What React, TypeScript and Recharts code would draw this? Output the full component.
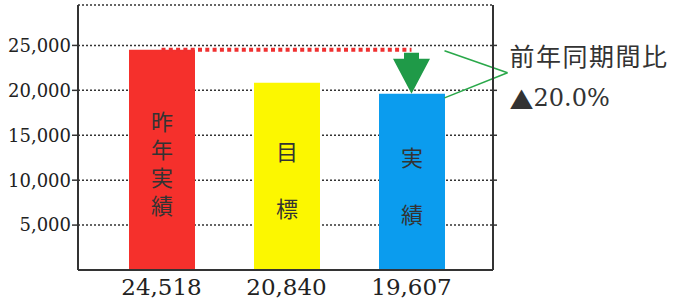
import React from "react";
import {
  BarChart,
  Bar,
  XAxis,
  YAxis,
  CartesianGrid,
  Cell,
  LabelList,
  ReferenceLine,
} from "recharts";

const categories = ["24,518", "20,840", "19,607"];
const values = [24518, 20840, 19607];
const barTexts = ["昨年実績", "目標", "実績"];
const barColors = ["#f5302c", "#fcf700", "#0b9cee"];
const yTicks = [5000, 10000, 15000, 20000, 25000];
const yDomain = [0, 29500];
const calloutTitle = "前年同期間比";

const data = categories.map((c, i) => ({ name: c, value: values[i], text: barTexts[i] }));

const prev = values[0];
const actual = values[2];
const pct = "▲" + (((prev - actual) / prev) * 100).toFixed(1) + "%";

const SERIF = "'DejaVu Serif', serif";
const CJK = "'Noto Sans CJK JP', sans-serif";
const AXIS = "#333";

const XTick = (props: any) => {
  const { x, y, payload } = props;
  return (
    <text x={x} y={y + 25} textAnchor="middle" fontFamily={SERIF} fontSize={23} fill="#222">
      {payload.value}
    </text>
  );
};

const BarText = (props: any) => {
  const { x, y, width, height, value } = props;
  const str = String(value);
  const fs = 22;
  const step = str.length > 2 ? 28 : 57;
  const gap = step - fs;
  const cx = x + width / 2;
  const cy = y + height / 2 + 4 + gap / 2;
  return (
    <text
      x={cx}
      y={cy}
      textAnchor="middle"
      fontFamily={CJK}
      fontSize={fs}
      fill="#333"
      letterSpacing={gap}
      style={{ writingMode: "vertical-rl" }}
    >
      {str}
    </text>
  );
};

const Arrow = (props: any) => {
  const { x1, y1, y2 } = props;
  const top = y1 + 3;
  const tip = y2;
  const headTop = tip - 35;
  const sw = 7.5;
  const hw = 18.5;
  const pts = [
    [x1 - sw, top],
    [x1 + sw, top],
    [x1 + sw, headTop],
    [x1 + hw, headTop],
    [x1, tip],
    [x1 - hw, headTop],
    [x1 - sw, headTop],
  ]
    .map((p) => p.join(","))
    .join(" ");
  return <polygon points={pts} fill="#1f9a48" />;
};

const Callout = (props: any) => {
  const { x1, y1, y2 } = props;
  const sx = x1 + 33;
  const ex = x1 + 96;
  const ey = (y1 + y2) / 2 + 1;
  return (
    <g>
      <line x1={sx} y1={y1 + 1} x2={ex} y2={ey} stroke="#2aa84a" strokeWidth={1.6} />
      <line x1={sx} y1={y2 + 4} x2={ex} y2={ey} stroke="#2aa84a" strokeWidth={1.6} />
      <text
        x={ex + 2}
        y={ey - 18}
        dominantBaseline="central"
        fontFamily={CJK}
        fontSize={25}
        letterSpacing={1.5}
        fill="#333"
      >
        {calloutTitle}
      </text>
      <text x={ex + 2} y={ey + 25} dominantBaseline="central" fontSize={24} fill="#333">
        <tspan fontFamily={CJK}>{pct.slice(0, 1)}</tspan>
        <tspan fontFamily={SERIF}>{pct.slice(1)}</tspan>
      </text>
    </g>
  );
};

export default function App() {
  return (
    <div style={{ position: "absolute", left: 0, top: 0, background: "#fff" }}>
      <BarChart
        width={677}
        height={301}
        data={data}
        margin={{ top: 5, right: 180, bottom: 0, left: 0 }}
        barCategoryGap={0}
      >
        <CartesianGrid
          vertical={false}
          stroke="#333"
          strokeDasharray="2 2"
          strokeWidth={1.5}
        />
        <XAxis
          dataKey="name"
          height={31}
          padding={{ left: 21, right: 19 }}
          tickLine={false}
          tickSize={0}
          tickMargin={0}
          tick={<XTick />}
          axisLine={{ stroke: AXIS, strokeWidth: 2 }}
        />
        <XAxis
          xAxisId="top"
          dataKey="name"
          orientation="top"
          height={0}
          padding={{ left: 21, right: 19 }}
          tick={false}
          tickLine={false}
          axisLine={{ stroke: AXIS, strokeWidth: 2 }}
        />
        <YAxis
          width={78}
          domain={yDomain}
          ticks={yTicks}
          interval={0}
          tickSize={6}
          tickMargin={1}
          tickFormatter={(v: number) => v.toLocaleString("en-US")}
          tick={{ fontFamily: SERIF, fontSize: 18, fill: "#222" }}
          tickLine={{ stroke: AXIS, strokeWidth: 1.5 }}
          axisLine={{ stroke: AXIS, strokeWidth: 2 }}
          allowDataOverflow
        />
        <YAxis
          yAxisId="right"
          orientation="right"
          width={4}
          domain={yDomain}
          ticks={yTicks}
          interval={0}
          tickSize={4}
          tickFormatter={() => ""}
          tickLine={{ stroke: AXIS, strokeWidth: 1.5 }}
          axisLine={{ stroke: AXIS, strokeWidth: 2 }}
          allowDataOverflow
        />
        <Bar dataKey="value" barSize={66} isAnimationActive={false}>
          {data.map((d, i) => (
            <Cell key={d.name} fill={barColors[i]} />
          ))}
          <LabelList dataKey="text" content={<BarText />} />
        </Bar>
        <ReferenceLine
          segment={[
            { x: categories[0], y: prev },
            { x: categories[2], y: prev },
          ]}
          stroke="#f03030"
          strokeWidth={4}
          strokeDasharray="4 3.3"
          ifOverflow="visible"
        />
        <ReferenceLine
          segment={[
            { x: categories[2], y: prev },
            { x: categories[2], y: actual },
          ]}
          ifOverflow="visible"
          shape={Arrow}
        />
        <ReferenceLine
          segment={[
            { x: categories[2], y: prev },
            { x: categories[2], y: actual },
          ]}
          ifOverflow="visible"
          shape={Callout}
        />
      </BarChart>
    </div>
  );
}
